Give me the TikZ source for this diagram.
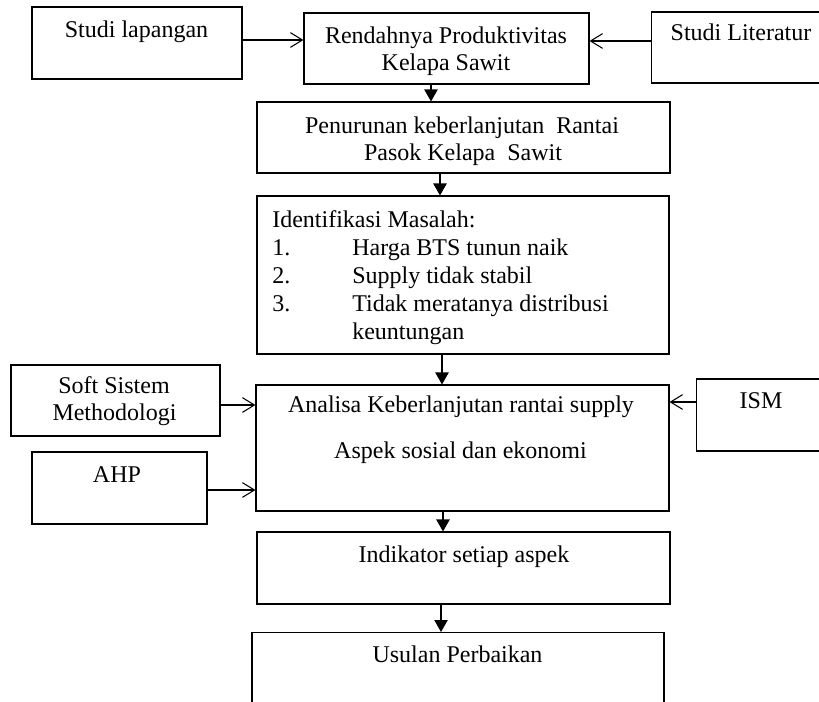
\documentclass[tikz,border=0pt]{standalone}
\usepackage{fontspec}
\setmainfont{Liberation Serif}
\usetikzlibrary{arrows.meta}

\tikzset{
  box/.style={draw, line width=0.8pt, inner sep=0pt},
  sz/.style 2 args={minimum width=#1*0.75pt, minimum height=#2*0.75pt},
  lbl/.style={inner sep=0pt, anchor=base, font=\fontsize{18}{20}\selectfont},
  side/.style={line width=0.8pt, -{Straight Barb[length=9pt,width=11pt,line width=0.8pt]}},
  down/.style={line width=0.8pt, -{Triangle[length=9pt,width=10pt]}}
}

\begin{document}
\begin{tikzpicture}[x=0.75pt, y=-0.75pt]
  \path[use as bounding box, clip] (0,0) rectangle (819,701);

  \node[box, sz={210}{72}] (lap) at (137,43) {};
  \node[box, sz={285}{71}] (rend) at (446.5,48.5) {};
  \node[box, sz={190}{71}, anchor=west] (lit) at (651,47.5) {};
  \node[box, sz={413}{71}] (pen) at (463.5,137.5) {};
  \node[box, sz={412}{158}] (idn) at (463,275) {};
  \node[box, sz={413}{126}] (ana) at (462.5,448) {};
  \node[box, sz={209}{71}] (ssm) at (115.5,400.5) {};
  \node[box, sz={175}{72}] (ahp) at (119.5,488) {};
  \node[box, sz={150}{72}, anchor=west] (ism) at (696,415) {};
  \node[box, sz={413}{72}] (ind) at (463.5,568) {};
  \node[box, sz={412}{90}, anchor=north] (usl) at (458,632) {};

  \node[lbl] at (136.5,37) {Studi lapangan};
  \node[lbl] at (446,43) {Rendahnya Produktivitas};
  \node[lbl] at (446,70) {Kelapa Sawit};
  \node[lbl] at (741,40) {Studi Literatur};
  \node[lbl] at (462,133) {Penurunan keberlanjutan\ \ Rantai};
  \node[lbl] at (463,160) {Pasok Kelapa\ \ Sawit};

  \node[lbl, anchor=base west] at (272,227) {Identifikasi Masalah:};
  \foreach \i/\t/\yy in {1/Harga BTS tunun naik/255, 2/Supply tidak stabil/283, 3/Tidak meratanya distribusi/311} {
    \node[lbl, anchor=base west] at (272,\yy) {\i.};
    \node[lbl, anchor=base west] at (352,\yy) {\t};
  }
  \node[lbl, anchor=base west] at (352,339) {keuntungan};

  \node[lbl] at (114,393) {Soft Sistem};
  \node[lbl] at (114.5,420) {Methodologi};
  \node[lbl] at (117,482) {AHP};
  \node[lbl] at (461,412) {Analisa\ Keberlanjutan rantai\ supply};
  \node[lbl] at (460.5,458) {Aspek sosial\ dan ekonomi};
  \node[lbl] at (761,408) {ISM};
  \node[lbl] at (464,562) {Indikator setiap aspek};
  \node[lbl] at (457.5,662) {Usulan\ Perbaikan};

  \draw[side] (lap.east |- 0,40) -- (rend.west |- 0,40);
  \draw[side] (lit.west |- 0,41) -- (rend.east |- 0,41);
  \draw[side] (ssm.east |- 0,405) -- (ana.west |- 0,405);
  \draw[side] (ahp.east |- 0,490) -- (ana.west |- 0,490);
  \draw[side] (ism.west |- 0,402) -- (ana.east |- 0,402);

  \draw[down] (rend.south -| 431,0) -- (pen.north -| 431,0);
  \draw[down] (pen.south -| 440,0) -- (idn.north -| 440,0);
  \draw[down] (idn.south -| 442,0) -- (ana.north -| 442,0);
  \draw[down] (ana.south -| 443,0) -- (ind.north -| 443,0);
  \draw[down] (ind.south -| 441,0) -- (usl.north -| 441,0);
\end{tikzpicture}
\end{document}
